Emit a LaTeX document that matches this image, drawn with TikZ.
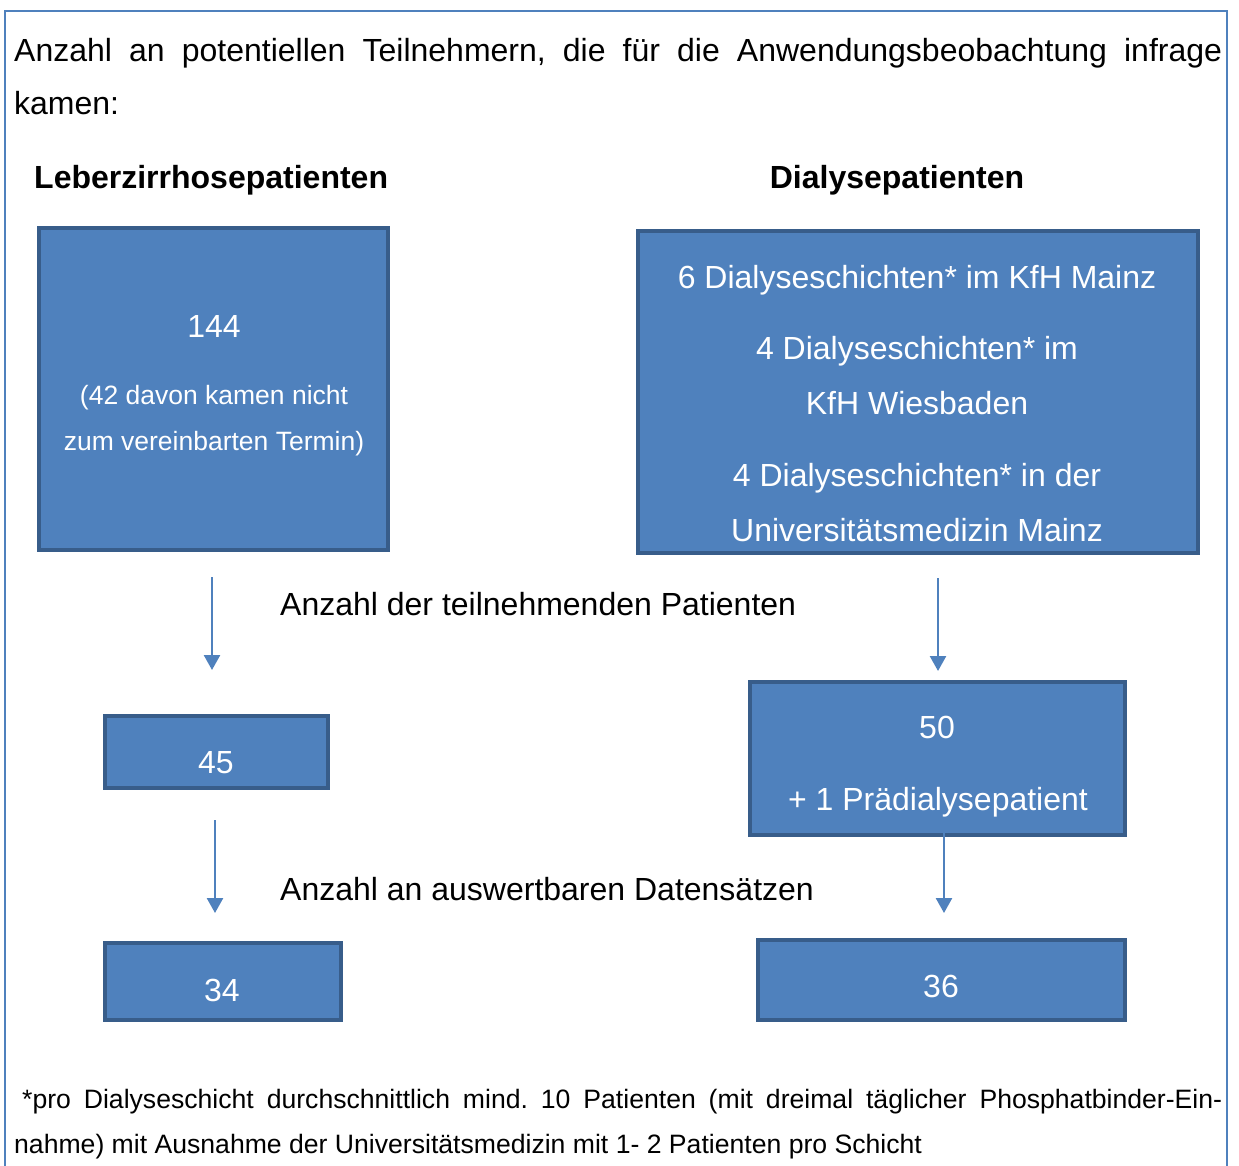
\documentclass[tikz,border=0pt]{standalone}
\usepackage{fontspec}
\setmainfont{Liberation Sans}
\usetikzlibrary{arrows.meta}
\definecolor{boxfill}{HTML}{4F81BD}
\definecolor{boxline}{HTML}{385D8A}
\definecolor{framecol}{HTML}{4F81BD}
\frenchspacing
\begin{document}
\begin{tikzpicture}[x=1pt,y=-1pt,
  box/.style={fill=boxfill, draw=boxline, line width=4pt, inner sep=0pt},
  txt/.style={inner sep=0pt, anchor=base, font=\fontsize{32}{38}\selectfont},
  wtxt/.style={txt, text=white},
  smalltxt/.style={inner sep=0pt, anchor=base, text=white, font=\fontsize{26.5}{32}\selectfont},
  foot/.style={inner sep=0pt, anchor=base west, font=\fontsize{26.6}{32}\selectfont},
  head/.style={inner sep=0pt, anchor=base, font=\fontsize{32}{38}\selectfont\bfseries},
  arr/.style={draw=framecol, line width=2.5pt, -{Triangle[width=16pt,length=15pt]}}
]
\clip (0,0) rectangle (1239,1165);
\fill[white] (0,0) rectangle (1239,1165);
% frame
\draw[framecol, line width=2pt] (5,1175) -- (5,11) -- (1227,11) -- (1227,1175);

% intro text
\node[txt, anchor=base west] (intro1) at (14,61) {\makebox[1208pt][s]{Anzahl an potentiellen Teilnehmern, die für die Anwendungsbeobachtung infrage}};
\node[txt, anchor=base west] (intro2) at (14,114) {kamen:};

% headings
\node[head, anchor=base west] (hL) at (34,188) {Leberzirrhosepatienten};
\node[head] (hR) at (897,188) {Dialysepatienten};

% boxes
\node[box, minimum width=349pt, minimum height=322pt] (L1) at (213.5,389) {};
\node[box, minimum width=560pt, minimum height=322pt] (R1) at (918,392) {};
\node[box, minimum width=223pt, minimum height=72pt] (L2) at (216.5,752) {};
\node[box, minimum width=375pt, minimum height=153pt] (R2) at (937.5,758.5) {};
\node[box, minimum width=236pt, minimum height=77pt] (L3) at (223,981.5) {};
\node[box, minimum width=367pt, minimum height=80pt] (R3) at (941.5,980) {};

% box texts
\node[wtxt] (t144) at (214,337) {144};
\node[smalltxt] (t42a) at (214,404) {(42 davon kamen nicht};
\node[smalltxt] (t42b) at (214,450) {zum vereinbarten Termin)};

\node[wtxt] (r1a) at (917,288) {6 Dialyseschichten* im KfH Mainz};
\node[wtxt] (r1b) at (917,359) {4 Dialyseschichten* im};
\node[wtxt] (r1c) at (917,414) {KfH Wiesbaden};
\node[wtxt] (r1d) at (917,486) {4 Dialyseschichten* in der};
\node[wtxt] (r1e) at (917,541) {Universitätsmedizin Mainz};

\node[wtxt] (t45) at (216,773) {45};
\node[wtxt] (t50) at (937,738) {50};
\node[wtxt] (t51) at (938,810) {+ 1 Prädialysepatient};
\node[wtxt] (t34) at (222,1001) {34};
\node[wtxt] (t36) at (941,997) {36};

% stage labels
\node[txt, anchor=base west] (lab1) at (280,615) {Anzahl der teilnehmenden Patienten};
\node[txt, anchor=base west] (lab2) at (280,900) {Anzahl an auswertbaren Datensätzen};

% arrows
\coordinate (a1s) at (212,577);
\coordinate (a1e) at (212,670);
\coordinate (a2s) at (938,578);
\coordinate (a2e) at (938,671);
\coordinate (a3s) at (215,820);
\coordinate (a3e) at (215,913);
\coordinate (a4s) at (944,818);
\coordinate (a4e) at (944,913);
\draw[arr] (a1s) -- (a1e);
\draw[arr] (a2s) -- (a2e);
\draw[arr] (a3s) -- (a3e);
\draw[arr] (a4s) -- (a4e);

% footnote
\node[foot] (f1) at (22,1108) {\makebox[1200pt][s]{*pro Dialyseschicht durchschnittlich mind. 10 Patienten (mit dreimal täglicher Phosphatbinder-Ein-}};
\node[foot] (f2) at (14,1153) {nahme) mit Ausnahme der Universitätsmedizin mit 1- 2 Patienten pro Schicht};
\end{tikzpicture}
\end{document}
